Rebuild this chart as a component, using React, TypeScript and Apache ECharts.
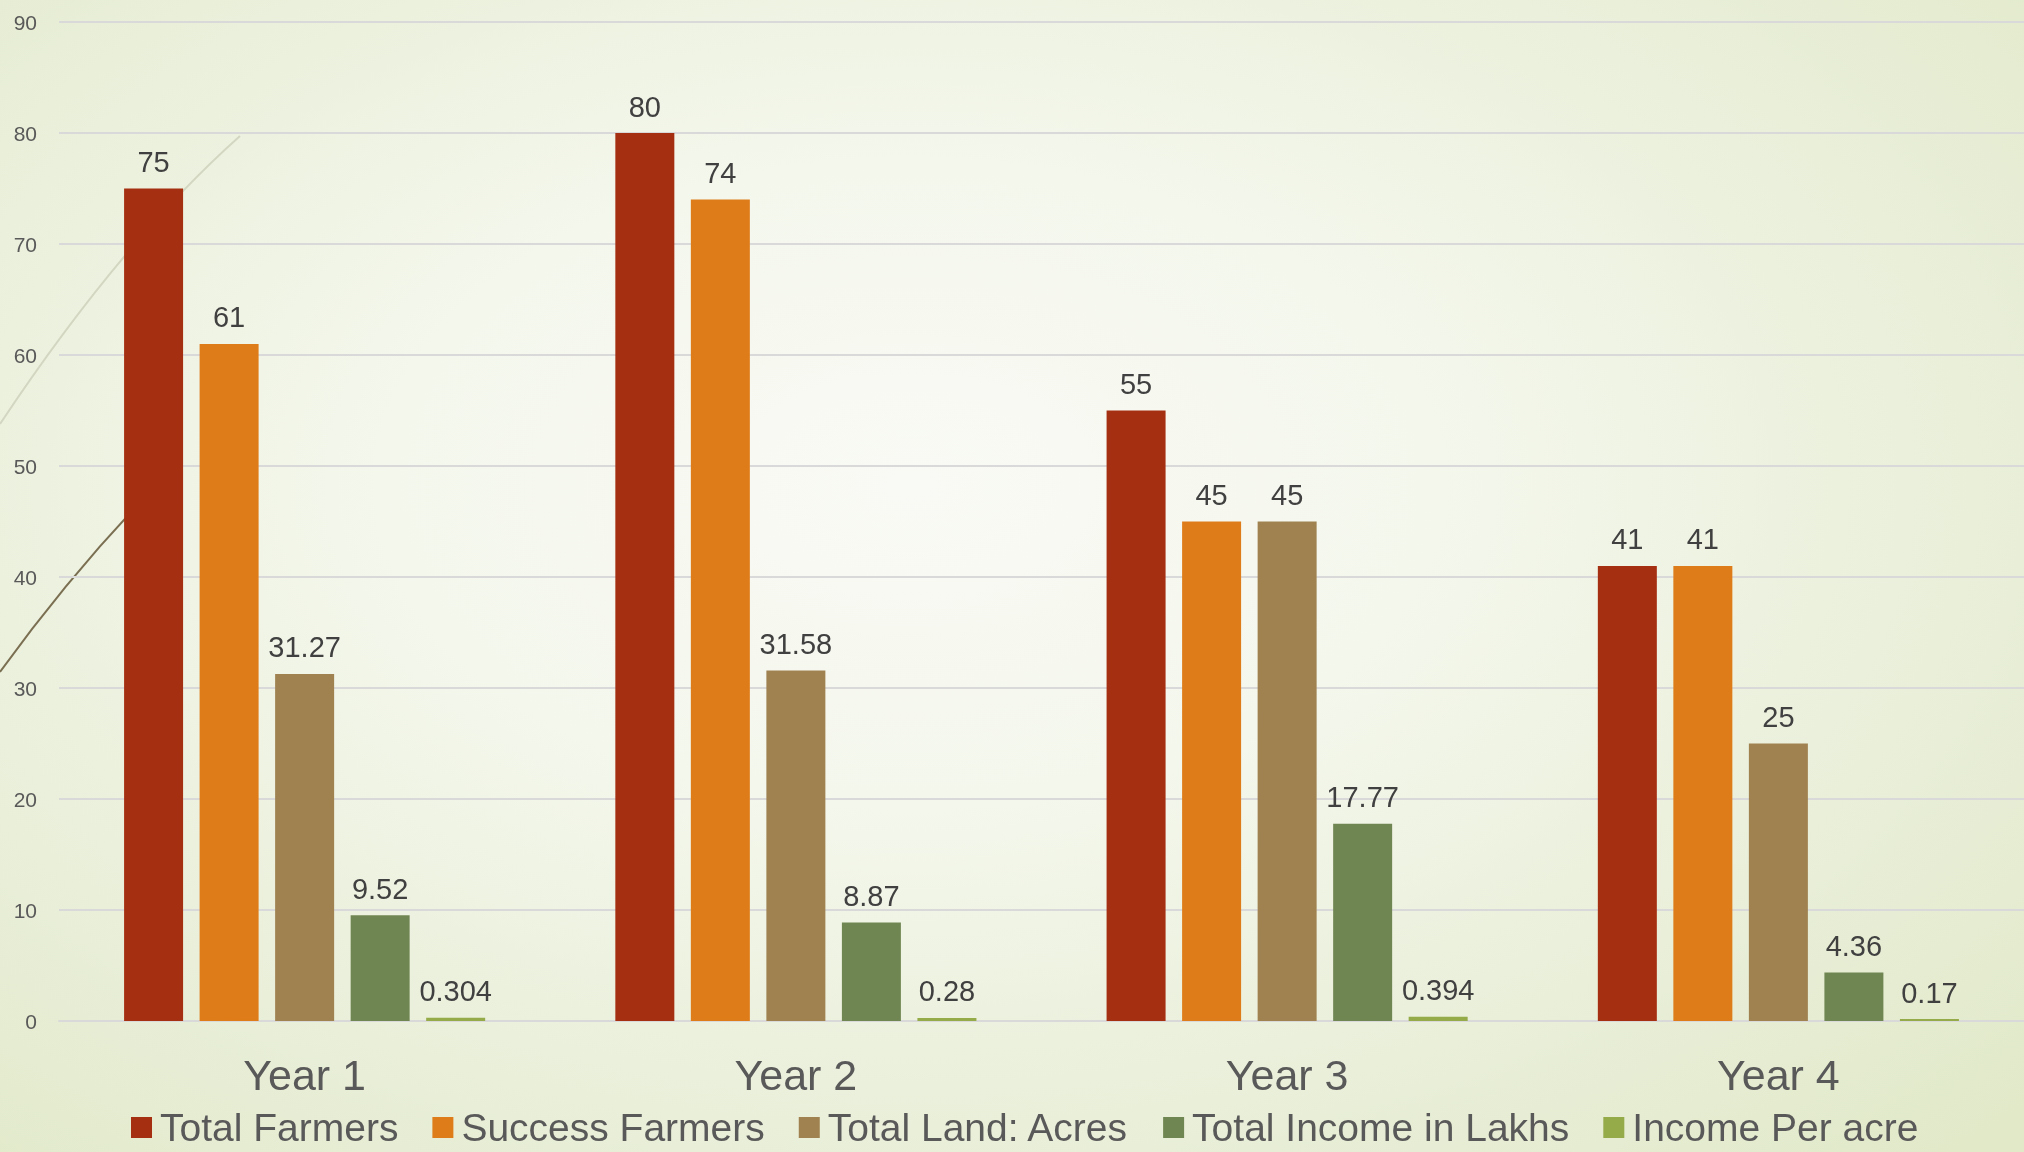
import React, { useEffect, useRef } from "react";
import * as echarts from "echarts";

const categories = ["Year 1", "Year 2", "Year 3", "Year 4"];
const seriesNames = [
  "Total Farmers",
  "Success Farmers",
  "Total Land: Acres",
  "Total Income in Lakhs",
  "Income Per acre",
];
const totalFarmers = [75, 80, 55, 41];
const successFarmers = [61, 74, 45, 41];
const totalLand = [31.27, 31.58, 45, 25];
const totalIncome = [9.52, 8.87, 17.77, 4.36];
const incomePerAcre = [0.304, 0.28, 0.394, 0.17];
const seriesValues = [totalFarmers, successFarmers, totalLand, totalIncome, incomePerAcre];
const seriesColors = ["#a52f11", "#de7c19", "#9f8250", "#708652", "#95aa48"];
const yTicks = { min: 0, max: 90, interval: 10 };

const FONT = "'Liberation Sans', Arial, sans-serif";

export default function App() {
  const ref = useRef<HTMLDivElement>(null);
  useEffect(() => {
    if (!ref.current) return;
    const chart = echarts.init(ref.current, undefined, { renderer: "svg" });
    chart.setOption({
      animation: false,
      backgroundColor: "transparent",
      graphic: [
        {
          type: "bezierCurve",
          z: -1,
          silent: true,
          shape: { x1: 0, y1: 424, x2: 240, y2: 136, cpx1: 121, cpy1: 242 },
          style: { stroke: "#d3d7c2", lineWidth: 2, fill: null },
        },
        {
          type: "bezierCurve",
          z: -1,
          silent: true,
          shape: { x1: 0, y1: 672, x2: 150, y2: 492, cpx1: 70, cpy1: 575 },
          style: { stroke: "#7b6f52", lineWidth: 2, fill: null },
        },
      ],
      grid: { left: 59, right: 0, top: 22, bottom: 131, containLabel: false },
      legend: {
        data: seriesNames,
        top: 1108,
        left: 131,
        padding: 0,
        itemGap: 34,
        itemWidth: 21,
        itemHeight: 21,
        icon: "rect",
        textStyle: {
          fontFamily: FONT,
          fontSize: 39,
          color: "#595959",
          padding: [0, 0, 0, 3],
        },
      },
      xAxis: {
        type: "category",
        data: categories,
        axisLine: { show: true, lineStyle: { color: "#d9d9d9", width: 2 } },
        axisTick: { show: false },
        axisLabel: {
          fontFamily: FONT,
          fontSize: 43,
          color: "#595959",
          margin: 32,
        },
      },
      yAxis: {
        type: "value",
        min: yTicks.min,
        max: yTicks.max,
        interval: yTicks.interval,
        axisLine: { show: false },
        axisTick: { show: false },
        splitLine: { lineStyle: { color: "#d9d9d9", width: 2 } },
        axisLabel: {
          fontFamily: FONT,
          fontSize: 21,
          color: "#595959",
          margin: 22,
        },
      },
      series: seriesNames.map((name, i) => ({
        name,
        type: "bar",
        data: seriesValues[i],
        barWidth: 59,
        barGap: "28%",
        itemStyle: { color: seriesColors[i] },
        label: {
          show: true,
          position: "top",
          distance: 12,
          fontFamily: FONT,
          fontSize: 29,
          color: "#404040",
        },
      })),
    });
    return () => chart.dispose();
  }, []);
  return (
    <div
      ref={ref}
      style={{
        position: "fixed",
        left: 0,
        top: 0,
        width: 2024,
        height: 1152,
        background:
          "radial-gradient(ellipse 75% 80% at 45% 42%, #f9faf5 0%, #f4f7ec 35%, #e9efd9 70%, #e1e9c9 100%)",
      }}
    />
  );
}
